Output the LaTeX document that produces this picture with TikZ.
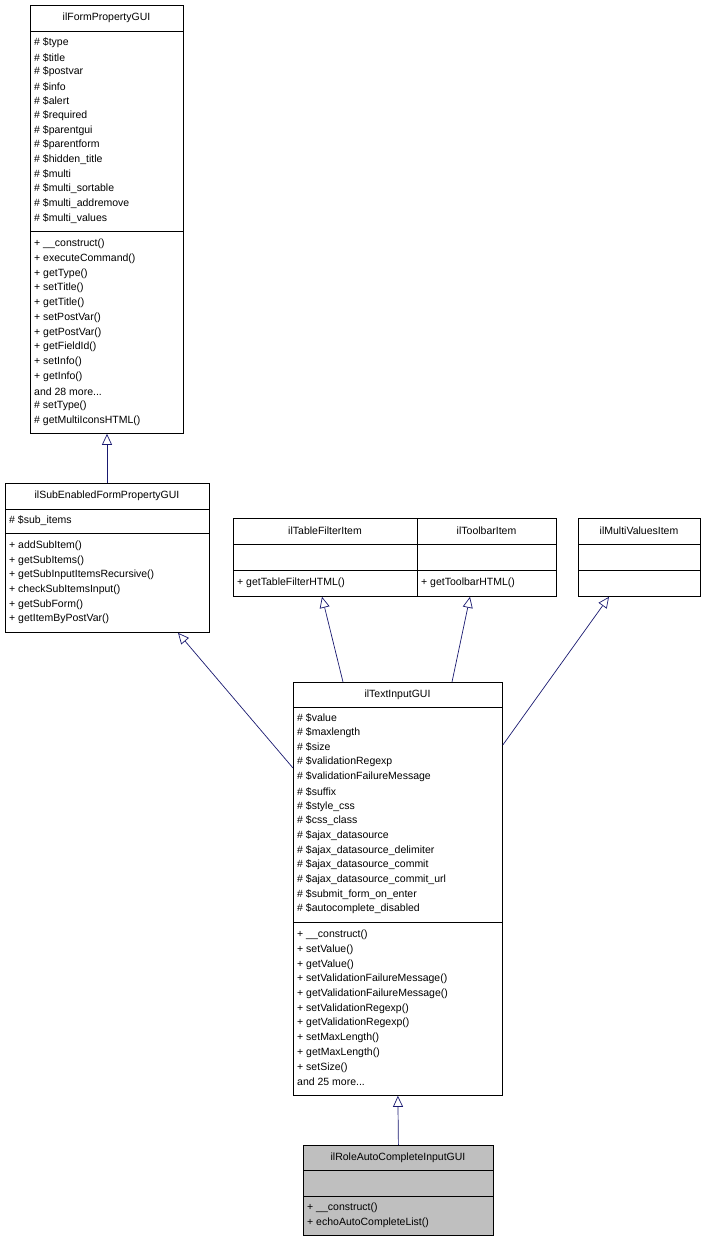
\documentclass[tikz,border=0pt]{standalone}
\usepackage{fontspec}
\setmainfont{Liberation Sans}
\usetikzlibrary{arrows.meta}
\definecolor{edge}{HTML}{191970}
\newcommand{\mydots}{.{}.{}.}
\begin{document}
\begin{tikzpicture}[x=1pt,y=-1pt,
  box/.style={draw=black,anchor=north west,inner sep=0,line width=0.8pt},
  txt/.style={anchor=west,inner sep=0,font=\fontsize{10.5}{12}\selectfont},
  ttl/.style={inner sep=0,font=\fontsize{10.5}{12}\selectfont},
  inh/.style={draw=edge,line width=0.7pt,-{Triangle[open,length=11pt,width=10pt]}}]
\useasboundingbox (0,0) rectangle (706,1241);
% box 1
\node[box,minimum width=153pt,minimum height=428pt] (fp) at (30,5) {};
\draw (30,31)--(183,31) (30,231)--(183,231);
\node[ttl] at (106.5,18) {ilFormPropertyGUI};
\foreach \t [count=\i] in {\# \$type,\# \$title,\# \$postvar,\# \$info,\# \$alert,\# \$required,\# \$parentgui,\# \$parentform,\# \$hidden\_title,\# \$multi,\# \$multi\_sortable,\# \$multi\_addremove,\# \$multi\_values}
  \node[txt] at (34,43+14.6*\i-14.6) {\t};
\foreach \t [count=\i] in {+ \_\_construct(),+ executeCommand(),+ getType(),+ setTitle(),+ getTitle(),+ setPostVar(),+ getPostVar(),+ getFieldId(),+ setInfo(),+ getInfo(),and 28 more\mydots,\# setType(),\# getMultiIconsHTML()}
  \node[txt] at (34,244+14.75*\i-14.75) {\t};
% box 2
\node[box,minimum width=204pt,minimum height=149pt] (se) at (5,483) {};
\draw (5,509)--(209,509) (5,533)--(209,533);
\node[ttl] at (107,496) {ilSubEnabledFormPropertyGUI};
\node[txt] at (9,521) {\# \$sub\_items};
\foreach \t [count=\i] in {+ addSubItem(),+ getSubItems(),+ getSubInputItemsRecursive(),+ checkSubItemsInput(),+ getSubForm(),+ getItemByPostVar()}
  \node[txt] at (9,546+14.6*\i-14.6) {\t};
% box 3,4,5
\node[box,minimum width=184pt,minimum height=78pt] (tf) at (233,518) {};
\draw (233,544)--(417,544) (233,570)--(417,570);
\node[ttl] at (325,531) {ilTableFilterItem};
\node[txt] at (237,583) {+ getTableFilterHTML()};
\node[box,minimum width=139pt,minimum height=78pt] (tb) at (417,518) {};
\draw (417,544)--(556,544) (417,570)--(556,570);
\node[ttl] at (486.5,531) {ilToolbarItem};
\node[txt] at (421,583) {+ getToolbarHTML()};
\node[box,minimum width=122pt,minimum height=78pt] (mv) at (578,518) {};
\draw (578,544)--(700,544) (578,570)--(700,570);
\node[ttl] at (639,531) {ilMultiValuesItem};
% box 6
\node[box,minimum width=209pt,minimum height=413pt] (ti) at (293,682) {};
\draw (293,707)--(502,707) (293,922)--(502,922);
\node[ttl] at (397.5,694.5) {ilTextInputGUI};
\foreach \t [count=\i] in {\# \$value,\# \$maxlength,\# \$size,\# \$validationRegexp,\# \$validationFailureMessage,\# \$suffix,\# \$style\_css,\# \$css\_class,\# \$ajax\_datasource,\# \$ajax\_datasource\_delimiter,\# \$ajax\_datasource\_commit,\# \$ajax\_datasource\_commit\_url,\# \$submit\_form\_on\_enter,\# \$autocomplete\_disabled}
  \node[txt] at (297,718+14.7*\i-14.7) {\t};
\foreach \t [count=\i] in {+ \_\_construct(),+ setValue(),+ getValue(),+ setValidationFailureMessage(),+ getValidationFailureMessage(),+ setValidationRegexp(),+ getValidationRegexp(),+ setMaxLength(),+ getMaxLength(),+ setSize(),and 25 more\mydots}
  \node[txt] at (297,935+14.7*\i-14.7) {\t};
% box 7
\node[box,fill=black!25,minimum width=190pt,minimum height=90pt] (ra) at (303,1145) {};
\draw (303,1170)--(493,1170) (303,1196)--(493,1196);
\node[ttl] at (398,1157.5) {ilRoleAutoCompleteInputGUI};
\node[txt] at (307,1208) {+ \_\_construct()};
\node[txt] at (307,1222.7) {+ echoAutoCompleteList()};
% edges
\draw[inh] ([xshift=102pt]se.north west) -- ([xshift=77pt]fp.south west);
\draw[inh] ([yshift=-86pt]ti.north west) -- ([xshift=173pt]se.south west);
\draw[inh] ([xshift=50pt]ti.north west) -- ([xshift=89pt]tf.south west);
\draw[inh] ([xshift=159pt]ti.north west) -- ([xshift=53pt]tb.south west);
\draw[inh] ([yshift=-63pt]ti.north east) -- ([xshift=31pt]mv.south west);
\draw[inh] (ra.north) -- (ti.south);
\end{tikzpicture}
\end{document}
